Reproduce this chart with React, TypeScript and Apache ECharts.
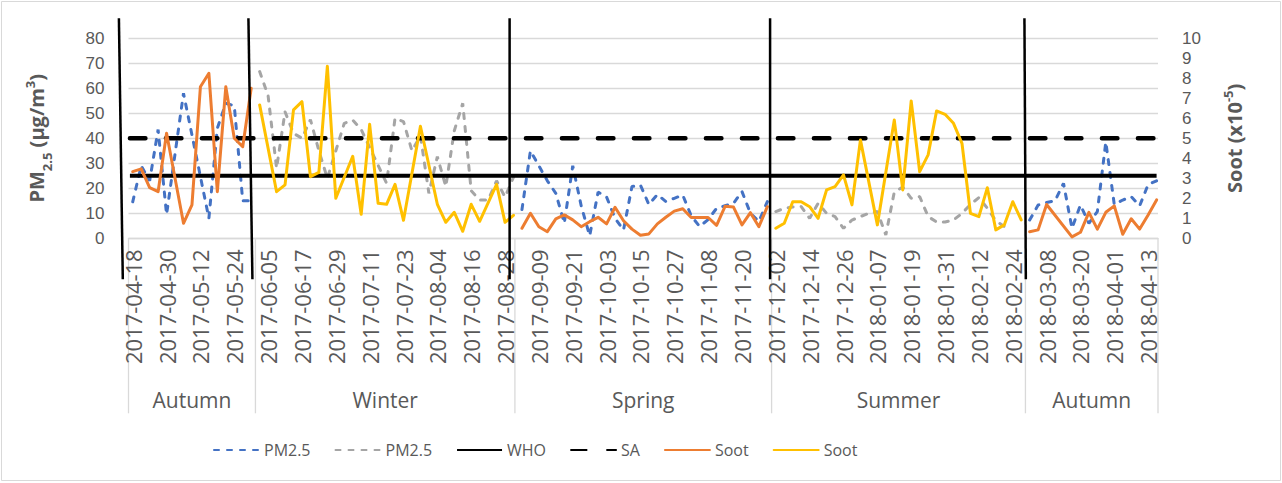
import React, { useEffect, useRef } from "react";
import * as echarts from "echarts";

const FONT = "'Open Sans', 'Noto Sans', sans-serif";
const TICK_FONT = "'Liberation Sans', Arial, sans-serif";
const AXIS_GREY = "#595959";
const GRID_GREY = "#D9D9D9";

// Daily category axis
const FIRST_DAY = "2017-04-17";
const DAY_COUNT = 365;
const LABEL_EVERY = 12;
const LABEL_FROM = 1; // 2017-04-18

// Seasons (first day of each group)
const seasonNames = ["Autumn", "Winter", "Spring", "Summer", "Autumn"];
const seasonStartDates = ["2017-04-17", "2017-06-01", "2017-09-01", "2017-12-01", "2018-03-01"];
// hand-drawn boundary marks: skew of top / bottom ends relative to the group edge
const markTopDx = [-9.6, -7, -5.3, -1.5, -1];
const markBottomDx = [-5.7, -3, -5.3, -1.5, 0.4];

// Guideline values (µg/m³)
const whoLimit = 25;
const saLimit = 40;

// Samples every 3 days, null = no sample (line joins neighbours)
const SAMPLE_STEP = 3;
const autumn1First = "2017-04-18";
const winterFirst = "2017-06-02";
const springFirst = "2017-09-03";
const summerFirst = "2017-12-02";
const autumn2First = "2018-03-02";

const pmAutumn1 = [14.6, 29, 23, 43.5, 9.5, null, 58, null, null, 8, 44, 54, 53, 15, 15];
const sootAutumn1 = [3.33, 3.47, 2.53, 2.33, 5.25, null, 0.75, 1.67, 7.58, 8.25, 2.33, 7.58, 5.0, 4.58, 7.5];

const pmWinter = [66.7, 57, 28, 50.6, 42, 40, 47.5, 35, 24, null,
  46, 47.3, 43.5, null, null, 22, 48, 46.7, 35, 41,
  18, 32.7, 20.7, 43, 54, 19, 15.3, 15.3, 23, 16.5, 24.5];
const sootWinter = [6.67, null, 2.33, 2.67, 6.42, 6.83, 3.08, 3.3, 8.6, 2.0,
  null, 4.1, 1.2, 5.7, 1.75, 1.7, 2.7, 0.9, null, 5.6,
  null, 1.7, 0.8, 1.3, 0.35, 1.7, 0.85, null, 2.7, 0.8, 1.15];

const pmSpring = [11.5, 35, 29, 23, 18, 6, 29, 13, 1, 18.5,
  16.5, 8, 3.3, 20.7, 21.3, 13.5, 17.5, 14.7, 16, 17.3,
  9, 4.7, 7.5, 12, 13, 14, 18.7, 10, 6.7, 14.7];
const sootSpring = [0.5, 1.25, 0.58, 0.33, 0.97, 1.17, 0.92, 0.58, 0.83, 1.05,
  0.72, 1.55, 0.88, 0.46, 0.15, 0.22, 0.72, 1.05, 1.36, 1.48,
  1.04, 1.04, 1.04, 0.65, 1.6, 1.56, 0.67, 1.28, 0.58, 1.58];

const pmSummer = [10.7, 12, 12.5, 12.7, 8, 14, 10, 8.7, 4, 7.3,
  8.7, 10, 10.7, 1.3, 18.5, 20.5, 16, 16.7, 8.7, 6.5,
  6.5, 7.3, 10, 13.5, 16.3, 12, 7, 4.7, null, null];
const sootSummer = [0.5, 0.75, 1.83, 1.83, 1.58, 1.0, 2.42, 2.58, 3.17, 1.67,
  4.92, null, 0.67, null, 5.92, 2.42, 6.87, 3.33, 4.17, 6.37,
  6.2, 5.75, 4.75, 1.25, 1.08, 2.53, 0.42, 0.67, 1.83, 0.92];

const pmAutumn2 = [7.3, 13.3, 14.3, 15, 22, 4, 13.3, 6, 10.7, 38.5, 13.5, 15.3, 16.7, 13, 21.5, 23];
const sootAutumn2 = [0.33, 0.42, 1.69, null, null, 0.07, 0.3, 1.3, 0.46, 1.3, 1.62, 0.2, 0.98, 0.46, 1.17, 1.92];

const DAY_MS = 86400000;
const parseDay = (s: string) => {
  const [y, m, d] = s.split("-").map(Number);
  return Date.UTC(y, m - 1, d);
};
const fmtDay = (t: number) => {
  const d = new Date(t);
  const mm = String(d.getUTCMonth() + 1).padStart(2, "0");
  const dd = String(d.getUTCDate()).padStart(2, "0");
  return `${d.getUTCFullYear()}-${mm}-${dd}`;
};
const firstT = parseDay(FIRST_DAY);
const categories = Array.from({ length: DAY_COUNT }, (_, i) => fmtDay(firstT + i * DAY_MS));
const dayIndex = (s: string) => Math.round((parseDay(s) - firstT) / DAY_MS);

type Seg = [string, (number | null)[]];
const buildPairs = (segs: Seg[]) => {
  const out: any[] = [];
  segs.forEach(([first, vals], si) => {
    const i0 = dayIndex(first);
    if (si > 0) out.push([i0, "-"]);
    vals.forEach((v, k) => {
      if (v !== null) out.push([i0 + k * SAMPLE_STEP, v]);
    });
  });
  return out;
};

const bluePm = buildPairs([[autumn1First, pmAutumn1], [springFirst, pmSpring], [autumn2First, pmAutumn2]]);
const greyPm = buildPairs([[winterFirst, pmWinter], [summerFirst, pmSummer]]);
const orangeSoot = buildPairs([[autumn1First, sootAutumn1], [springFirst, sootSpring], [autumn2First, sootAutumn2]]);
const yellowSoot = buildPairs([[winterFirst, sootWinter], [summerFirst, sootSummer]]);

export default function App() {
  const ref = useRef<HTMLDivElement>(null);
  useEffect(() => {
    if (!ref.current) return;
    const chart = echarts.init(ref.current, undefined, { renderer: "svg" });
    const titleRich = {
      b: { fontSize: 20, fontWeight: "bold", color: AXIS_GREY, fontFamily: FONT, lineHeight: 26 },
      s: { fontSize: 13, fontWeight: "bold", color: AXIS_GREY, fontFamily: FONT, verticalAlign: "bottom", lineHeight: 26, padding: [0, 0, -4, 0] },
      p: { fontSize: 13, fontWeight: "bold", color: AXIS_GREY, fontFamily: FONT, verticalAlign: "top", lineHeight: 26 },
    };
    const pmLine = (name: string, color: string, data: any[]) => ({
      name, type: "line", data, yAxisIndex: 0, symbol: "none", connectNulls: false,
      lineStyle: { color, width: 3, type: [5, 8], cap: "round" },
      itemStyle: { color },
    });
    const sootLine = (name: string, color: string, data: any[]) => ({
      name, type: "line", data, yAxisIndex: 1, symbol: "none", connectNulls: false,
      lineStyle: { color, width: 3, cap: "round", join: "round" },
      itemStyle: { color },
    });
    const lastIdx = DAY_COUNT - 1;
    const tickLabel = { fontSize: 17, lineHeight: 18, color: AXIS_GREY, margin: 24, fontFamily: TICK_FONT };
    const option: any = {
      animation: false,
      textStyle: { fontFamily: FONT },
      grid: { left: 128.5, right: 124, top: 38.3, bottom: 244.7 },
      legend: {
        left: 208, top: 437, itemWidth: 45, itemHeight: 14, itemGap: 24,
        itemStyle: { opacity: 0 },
        textStyle: { fontSize: 16, color: AXIS_GREY, fontFamily: FONT },
        data: ["PM2.5", "PM2.5\u200b", "WHO", "SA", "Soot", "Soot\u200b"],
      },
      xAxis: {
        type: "category", data: categories, boundaryGap: true,
        axisLine: { lineStyle: { color: GRID_GREY, width: 1.3 } },
        axisTick: { show: false },
        axisLabel: {
          interval: (i: number) => i >= LABEL_FROM && (i - LABEL_FROM) % LABEL_EVERY === 0,
          rotate: 90, margin: 11, fontSize: 22, color: AXIS_GREY, fontFamily: FONT,
        },
        splitLine: { show: false },
      },
      yAxis: [
        {
          type: "value", min: 0, max: 80, interval: 10, position: "left",
          axisLine: { show: false }, axisTick: { show: false },
          axisLabel: tickLabel,
          splitLine: { lineStyle: { color: GRID_GREY, width: 1.3 } },
          name: "{b|PM}{s|2.5}{b| (µg/m}{p|3}{b|)}",
          nameLocation: "middle", nameRotate: 90, nameGap: 79,
          nameTextStyle: { rich: titleRich },
        },
        {
          type: "value", min: 0, max: 10, interval: 1, position: "right",
          axisLine: { show: false }, axisTick: { show: false },
          axisLabel: tickLabel,
          splitLine: { show: false },
          name: "{b|Soot (x10}{p|-5}{b|)}",
          nameLocation: "middle", nameRotate: 90, nameGap: 63,
          nameTextStyle: { rich: titleRich },
        },
      ],
      series: [
        pmLine("PM2.5", "#4472C4", bluePm),
        pmLine("PM2.5\u200b", "#A5A5A5", greyPm),
        {
          name: "WHO", type: "line", symbol: "none", yAxisIndex: 0,
          data: [[0, whoLimit], [lastIdx, whoLimit]],
          lineStyle: { color: "#000", width: 4 }, itemStyle: { color: "#000" },
        },
        {
          name: "SA", type: "line", symbol: "none", yAxisIndex: 0,
          data: [[0, saLimit], [lastIdx, saLimit]],
          lineStyle: { color: "#000", width: 4.5, type: [15.5, 20.5], cap: "round" }, itemStyle: { color: "#000" },
        },
        sootLine("Soot", "#ED7D31", orangeSoot),
        sootLine("Soot\u200b", "#FFC000", yellowSoot),
      ],
    };
    chart.setOption(option);

    const px = (i: number) => chart.convertToPixel({ xAxisIndex: 0 }, i) as number;
    const band = px(1) - px(0);
    const edge = (i: number) => px(i) - band / 2;
    const y0 = chart.convertToPixel({ yAxisIndex: 0 }, 0) as number;
    const yTop = chart.convertToPixel({ yAxisIndex: 0 }, 80) as number;
    const starts = seasonStartDates.map(dayIndex);
    const bounds = [...starts, DAY_COUNT];
    const graphic: any[] = [];
    bounds.forEach((b) => {
      const x = edge(b);
      graphic.push({ type: "line", silent: true, shape: { x1: x, y1: y0, x2: x, y2: y0 + 175 }, style: { stroke: GRID_GREY, lineWidth: 1.3 } });
    });
    seasonNames.forEach((n, k) => {
      const cx = (edge(bounds[k]) + edge(bounds[k + 1])) / 2;
      graphic.push({ type: "text", silent: true, x: cx, y: y0 + 162, style: { text: n, fontSize: 21, fill: AXIS_GREY, fontFamily: FONT, align: "center", verticalAlign: "middle" } });
    });
    starts.forEach((b, k) => {
      const x = edge(b);
      graphic.push({ type: "line", silent: true, z: 100, shape: { x1: x + markTopDx[k], y1: yTop - 20, x2: x + markBottomDx[k], y2: y0 + 41 }, style: { stroke: "#000", lineWidth: 2.5 } });
    });
    graphic.push({ type: "rect", silent: true, shape: { x: 1.5, y: 1.5, width: 1279, height: 479 }, style: { fill: "none", stroke: GRID_GREY, lineWidth: 1 } });
    chart.setOption({ graphic });

    return () => chart.dispose();
  }, []);
  return <div ref={ref} style={{ position: "fixed", left: 0, top: 0, width: 1282, height: 483, background: "#fff" }} />;
}
